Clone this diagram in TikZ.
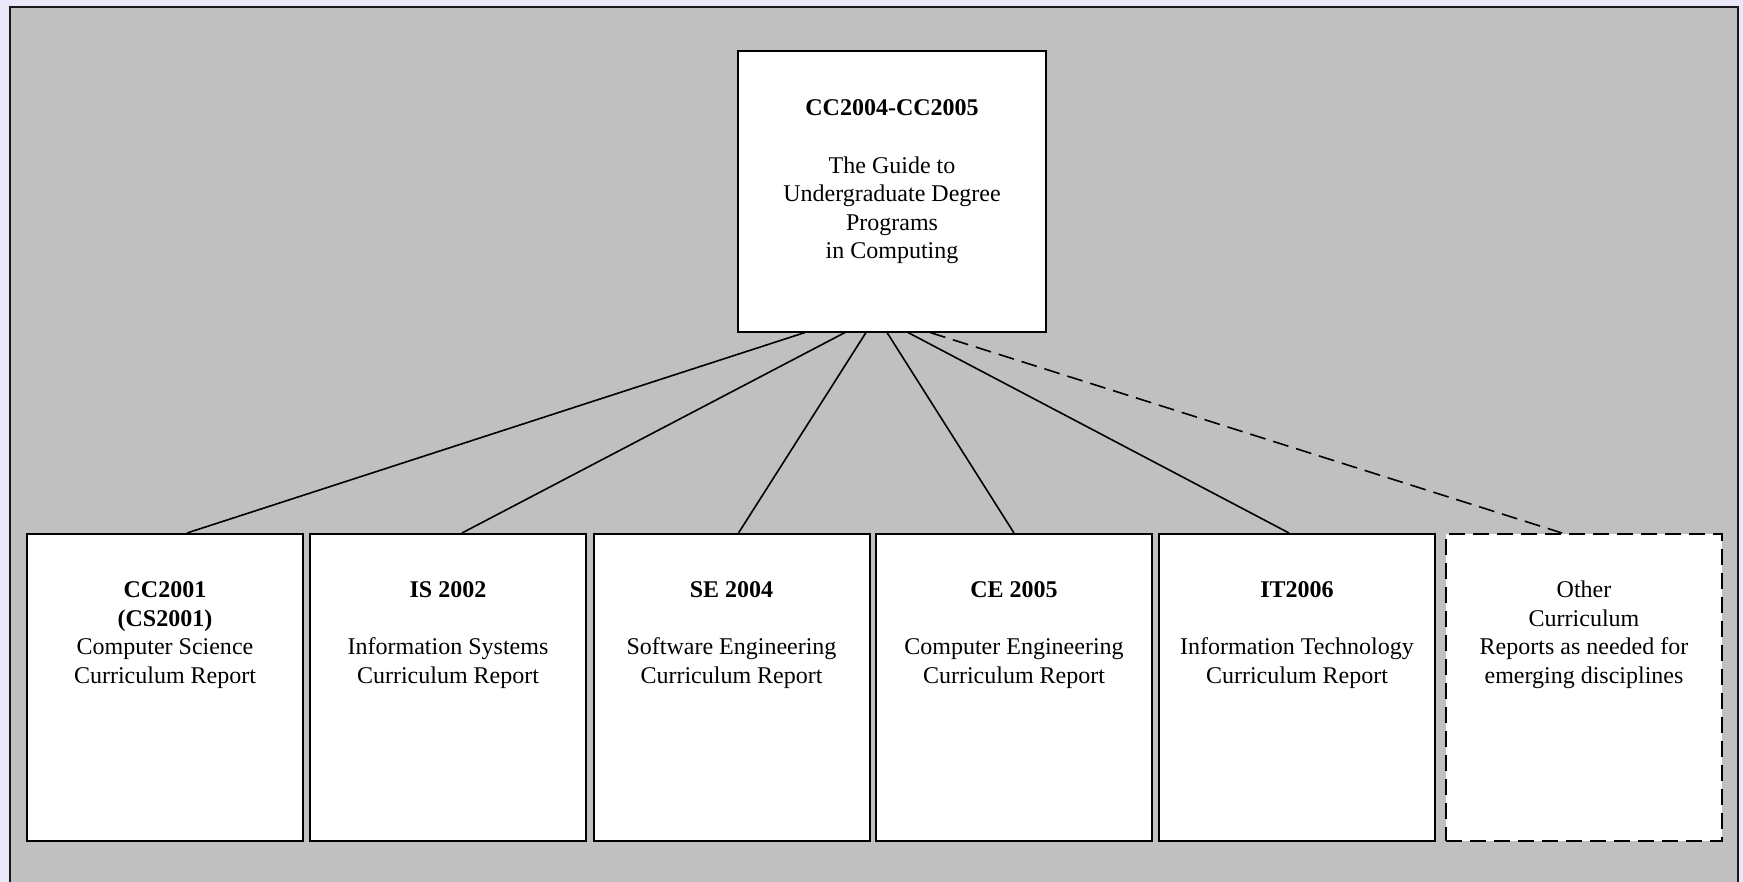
\documentclass[tikz,border=0pt]{standalone}
\usepackage{fontspec}
\setmainfont{Liberation Serif}
\usetikzlibrary{calc}
\definecolor{lavender}{RGB}{232,232,248}
\definecolor{panelgray}{RGB}{192,192,192}
\tikzset{
  report/.style={draw,fill=white,line width=1pt,inner sep=0pt,
    minimum width=138pt,minimum height=153.5pt},
  caption/.style={align=center,anchor=base,inner sep=0pt},
  link/.style={line width=0.8pt},
  futurelink/.style={link,dash pattern=on 8pt off 4pt},
}
\begin{document}
\begin{tikzpicture}[x=0.5pt,y=-0.5pt,line cap=butt,
    every node/.style={font=\fontsize{12}{14.25}\selectfont}]
        \useasboundingbox (0,0) rectangle (1743,882);
        \fill[lavender] (0,0) rectangle (1743,882);
        \fill[panelgray] (10,7) rectangle (1738,882);
        \draw[line width=1.2pt,black!90] (10,882) -- (10,7) -- (1738,7) -- (1738,882);
        % top guide
        \node[report,minimum width=154pt,minimum height=140pt] (guide) at (892,191.5){};
        \node[caption] (guidetext) at ($(guide.north)+(0,208)$){%
            \textbf{CC2004-CC2005}\\[14.25pt]The Guide to\\Undergraduate Degree\\Programs\\in Computing};
        % discipline reports
        \foreach \name/\x/\txt in {
            cs/165/{\textbf{CC2001}\\\textbf{(CS2001)}\\Computer Science\\Curriculum Report},
            is/448/{\textbf{IS 2002}\\[14.25pt]Information Systems\\Curriculum Report},
            se/731.5/{\textbf{SE 2004}\\[14.25pt]Software Engineering\\Curriculum Report},
            ce/1014/{\textbf{CE 2005}\\[14.25pt]Computer Engineering\\Curriculum Report},
            it/1297/{\textbf{IT2006}\\[14.25pt]Information Technology\\Curriculum Report}}{
            \node[report] (\name) at (\x,687.5){};
            \node[caption] (\name text) at ($(\name.north)+(0,150)$){\txt};
        }
        \node[report,dash pattern=on 8pt off 4pt] (other) at (1584,687.5){};
        \node[caption] (othertext) at ($(other.north)+(0,150)$){%
            Other\\Curriculum\\Reports as needed for\\emerging disciplines};
        % connectors
        \foreach \name/\dx/\ex in {cs/-87/22,is/-47/14,se/-26/7,ce/-5/0,it/16/-8}{
            \draw[link] ($(guide.south)+(\dx,0)$) -- ($(\name.north)+(\ex,0)$);
        }
        \draw[futurelink] ($(guide.south)+(38,0)$) -- ($(other.north)+(-22,0)$);
    \end{tikzpicture}
\end{document}
